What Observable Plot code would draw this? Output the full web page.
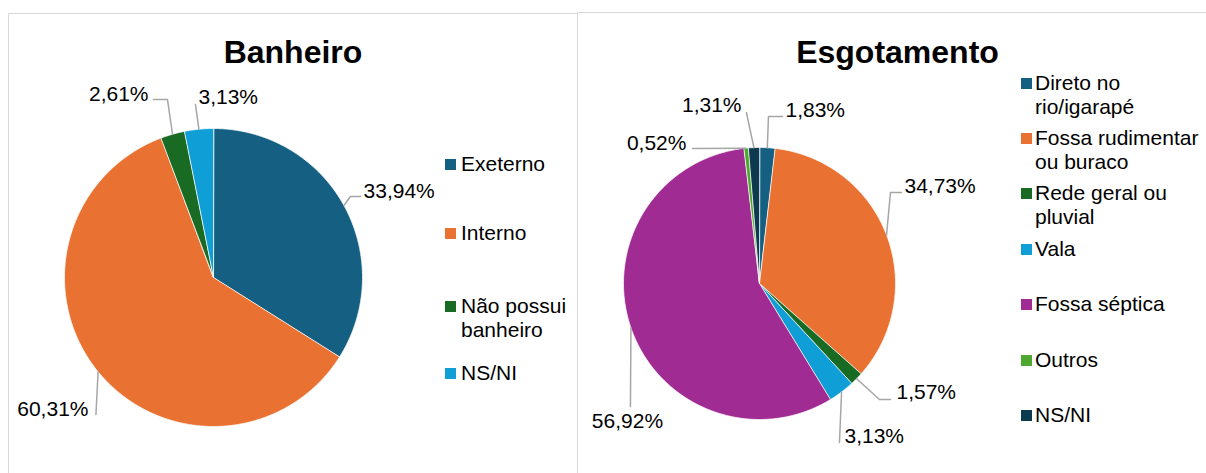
<!DOCTYPE html>
<html><head><meta charset="utf-8">
<script src="https://cdn.jsdelivr.net/npm/d3@7"></script>
<script src="https://cdn.jsdelivr.net/npm/@observablehq/plot@0.6"></script>
<style>
body{margin:0;background:#fff;font-family:"Liberation Sans",Arial,sans-serif;}
#root{position:relative;width:1206px;height:473px;overflow:hidden;background:#fff;}
.panel{position:absolute;border:1.5px solid #D9D9D9;box-sizing:border-box;}
.title{position:absolute;font-weight:bold;font-size:32px;line-height:32px;text-align:center;color:#000;}
.leg{position:absolute;font-size:21px;line-height:24.5px;color:#000;}
.sw{position:absolute;width:11px;height:11px;}
.chart{position:absolute;}
</style></head><body><div id="root"></div>
<script>
// ---------- DATA ----------
const banheiroTitle = "Banheiro";
const banheiroCategories = ["Exeterno", "Interno", "Não possui banheiro", "NS/NI"];
const banheiroValues = [33.94, 60.31, 2.61, 3.13];
const banheiroLabels = ["33,94%", "60,31%", "2,61%", "3,13%"];

const esgotoTitle = "Esgotamento";
const esgotoCategories = ["Direto no rio/igarapé", "Fossa rudimentar ou buraco", "Rede geral ou pluvial", "Vala", "Fossa séptica", "Outros", "NS/NI"];
const esgotoValues = [1.83, 34.73, 1.57, 3.13, 56.92, 0.52, 1.31];
const esgotoLabels = ["1,83%", "34,73%", "1,57%", "3,13%", "56,92%", "0,52%", "1,31%"];

// ---------- STYLES / LAYOUT ----------
const banheiroColors = ["#156082", "#E97132", "#196B24", "#0F9ED5"];
const esgotoColors = ["#156082", "#E97132", "#196B24", "#0F9ED5", "#A02B93", "#4EA72E", "#0D3A4E"];

// label layout in pie-radius units (centre = 0,0, radius = 1): leader elbows and text anchor
const banheiroLabelLayout = [
  {path: [[0.919, 0.544], [0.987, 0.544]], text: [1.007, 0.577], anchor: "start"},
  {path: [[-0.789, -0.919]], text: [-0.839, -0.886], anchor: "end"},
  {path: [[-0.309, 1.195], [-0.403, 1.195]], text: [-0.436, 1.228], anchor: "end"},
  {path: [[-0.121, 1.161]], text: [-0.101, 1.208], anchor: "start"}
];
const esgotoLabelLayout = [
  {path: [[0.066, 1.228], [0.169, 1.228]], text: [0.191, 1.272], anchor: "start"},
  {path: [[0.963, 0.669], [1.044, 0.669]], text: [1.066, 0.713], anchor: "start"},
  {path: [[0.882, -0.853], [0.963, -0.853]], text: [1.007, -0.801], anchor: "start"},
  {path: [[0.588, -1.169]], text: [0.625, -1.125], anchor: "start"},
  {path: [[-0.949, -0.904]], text: [-0.971, -1.015], anchor: "middle"},
  {path: [[-0.493, 0.993]], text: [-0.537, 1.029], anchor: "end"},
  {path: [[-0.096, 1.257]], text: [-0.132, 1.309], anchor: "end"}
];

const panels = [
  {title: banheiroTitle, cats: banheiroCategories, vals: banheiroValues, labels: banheiroLabels,
   colors: banheiroColors, layout: banheiroLabelLayout,
   box: {left: 8, top: 13, width: 570, height: 470},
   svg: {left: 8, top: 13, width: 570, height: 460, cx: 205, cy: 264, r: 149},
   legend: {swLeft: 445, txLeft: 461, txWidth: 112, centers: [164, 233, 306, 373]}},
  {title: esgotoTitle, cats: esgotoCategories, vals: esgotoValues, labels: esgotoLabels,
   colors: esgotoColors, layout: esgotoLabelLayout,
   box: {left: 577, top: 12, width: 641, height: 470},
   svg: {left: 577, top: 12, width: 629, height: 461, cx: 182, cy: 271, r: 136},
   legend: {swLeft: 1021, txLeft: 1035, txWidth: 172, centers: [83, 138, 193, 249, 304, 360, 415]}}
];

const root = document.getElementById("root");

function pieSlices(values) {
  const total = d3.sum(values);
  let acc = 0;
  return values.map((v, i) => {
    const a0 = acc / total * 2 * Math.PI;
    acc += v;
    const a1 = acc / total * 2 * Math.PI;
    return {i, a0, a1, mid: (a0 + a1) / 2};
  });
}
function slicePoints(s) {
  const pts = [{x: 0, y: 0}];
  const n = Math.max(2, Math.ceil((s.a1 - s.a0) / (Math.PI / 360)));
  for (let k = 0; k <= n; k++) {
    const a = s.a0 + (s.a1 - s.a0) * k / n;
    pts.push({x: Math.sin(a), y: Math.cos(a)});
  }
  return pts;
}

for (const p of panels) {
  const frame = document.createElement("div");
  frame.className = "panel";
  Object.assign(frame.style, {left: p.box.left + "px", top: p.box.top + "px", width: p.box.width + "px", height: p.box.height + "px"});
  root.appendChild(frame);

  const t = document.createElement("div");
  t.className = "title";
  t.textContent = p.title;
  Object.assign(t.style, {left: p.box.left + "px", width: p.box.width + "px", top: "36px"});
  root.appendChild(t);

  const sl = pieSlices(p.vals);
  const marks = sl.map(s => Plot.line(slicePoints(s), {
    x: "x", y: "y", fill: p.colors[s.i], stroke: "white", strokeWidth: 0.75, curve: "linear-closed"
  }));

  const leaders = [];
  const texts = [];
  sl.forEach(s => {
    const L = p.layout[s.i];
    leaders.push({x: Math.sin(s.mid), y: Math.cos(s.mid), k: s.i});
    L.path.forEach(([x, y]) => leaders.push({x, y, k: s.i}));
    texts.push({x: L.text[0], y: L.text[1], label: p.labels[s.i], anchor: L.anchor});
  });
  marks.push(Plot.line(leaders, {x: "x", y: "y", z: "k", stroke: "#A6A6A6", strokeWidth: 1.5}));
  for (const anchor of ["start", "middle", "end"]) {
    marks.push(Plot.text(texts.filter(d => d.anchor === anchor), {
      x: "x", y: "y", text: "label", textAnchor: anchor, fontSize: 21, fill: "#000"
    }));
  }

  const g = p.svg;
  const chart = Plot.plot({
    width: g.width, height: g.height,
    x: {domain: [-1, 1], range: [g.cx - g.r, g.cx + g.r], axis: null},
    y: {domain: [-1, 1], range: [g.cy + g.r, g.cy - g.r], axis: null},
    style: {fontFamily: "Liberation Sans, Arial, sans-serif", background: "transparent", overflow: "visible", maxWidth: "none"},
    marks
  });
  chart.classList.add("chart");
  Object.assign(chart.style, {left: g.left + "px", top: g.top + "px"});
  root.appendChild(chart);

  p.cats.forEach((c, i) => {
    const cy = p.legend.centers[i];
    const sw = document.createElement("div");
    sw.className = "sw";
    Object.assign(sw.style, {left: p.legend.swLeft + "px", top: (cy - 5.5) + "px", background: p.colors[i]});
    root.appendChild(sw);
    const tx = document.createElement("div");
    tx.className = "leg";
    tx.textContent = c;
    Object.assign(tx.style, {left: p.legend.txLeft + "px", top: (cy - 12.1) + "px", width: p.legend.txWidth + "px"});
    root.appendChild(tx);
  });
}
</script></body></html>
